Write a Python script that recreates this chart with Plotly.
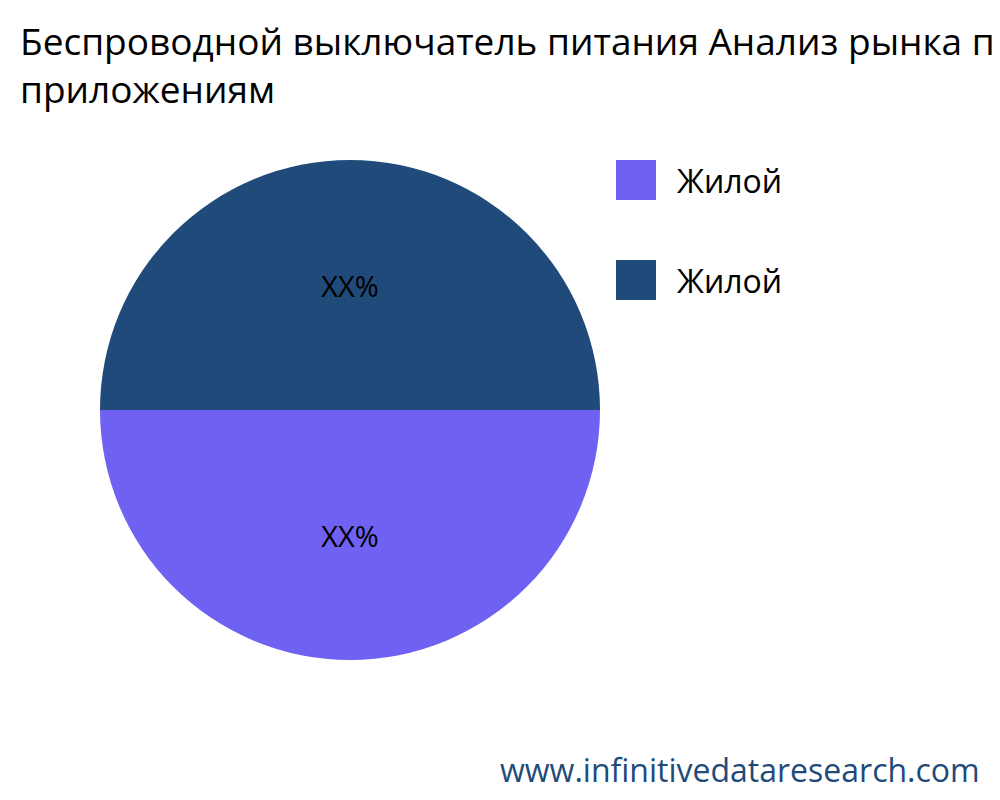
import plotly.graph_objects as go

title = "Беспроводной выключатель питания Анализ рынка по<br>приложениям"
labels = ["Жилой", "Жилой"]
values = [50, 50]
slice_text = ["XX%", "XX%"]
colors = ["#6F61F2", "#1F4A7A"]
site = "www.infinitivedataresearch.com"

# the page has an 8px body margin, so positions below are page pixels minus 8
L, T, W, H = 92, 152, 500, 500


def px(x):
    return (x - 8 - L) / W


def py(y):
    return 1 - (y - 8 - T) / H


fig = go.Figure()
fig.add_trace(go.Pie(
    values=values,
    text=slice_text,
    textinfo="text",
    textposition="auto",
    textfont=dict(family="Open Sans", size=29, color="black"),
    marker=dict(colors=colors),
    rotation=90,
    direction="clockwise",
    sort=False,
    showlegend=False,
    hovertext=labels,
    hoverinfo="text+percent",
))

# legend drawn by hand so the swatches can be big squares
for i, (lab, col) in enumerate(zip(labels, colors)):
    top = 160 + i * 100
    fig.add_shape(type="rect", xref="paper", yref="paper",
                  x0=px(616), x1=px(656), y0=py(top + 40), y1=py(top),
                  fillcolor=col, line=dict(width=0))
    fig.add_annotation(text=lab, xref="paper", yref="paper",
                       x=px(675), y=py(top + 20),
                       xanchor="left", yanchor="middle", showarrow=False,
                       font=dict(family="Open Sans", size=32, color="black"))

fig.add_annotation(text=site, xref="paper", yref="paper",
                   x=px(982), y=py(769),
                   xanchor="right", yanchor="middle", showarrow=False,
                   font=dict(family="Open Sans", size=32, color="#1F4A7A"))

fig.update_layout(
    width=1000, height=800,
    title=dict(text=title, x=0.012, xanchor="left", y=1 - 47 / 800, yanchor="top",
               font=dict(family="Open Sans", size=37, color="black")),
    margin=dict(l=L, r=1000 - L - W, t=T, b=800 - T - H),
    paper_bgcolor="white",
    plot_bgcolor="white",
)

fig.write_html("out.html")
